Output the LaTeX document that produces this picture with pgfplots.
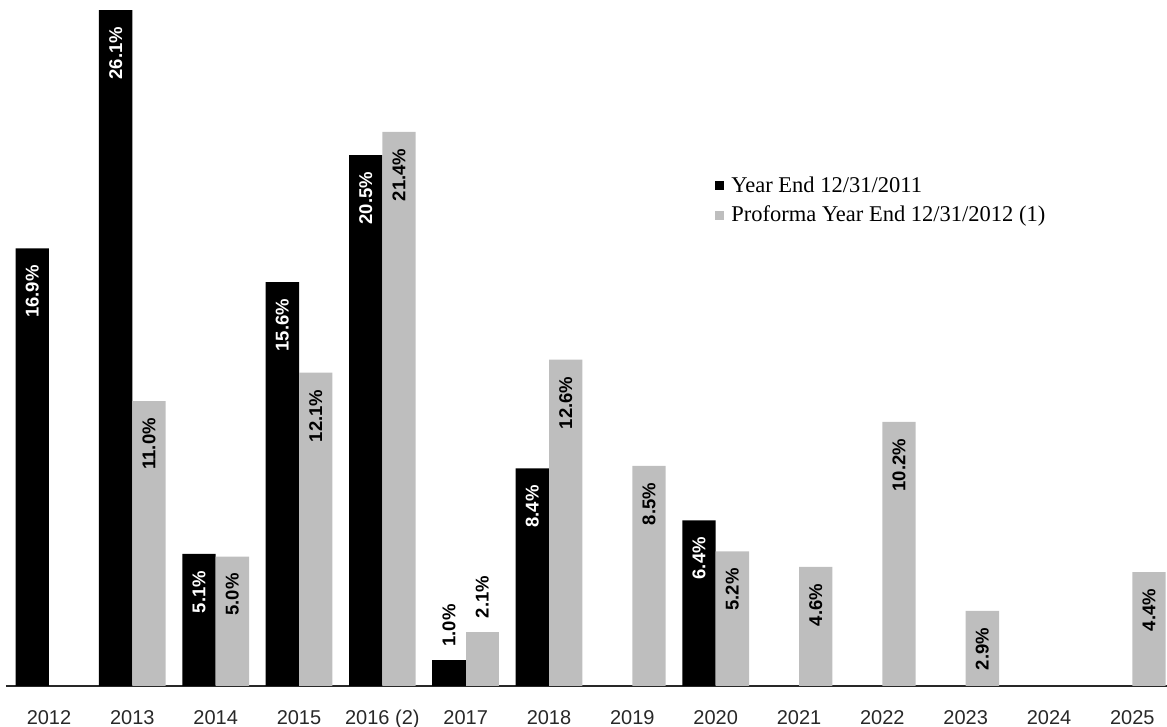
\documentclass[border=0pt]{standalone}
\usepackage{fontspec}
\setmainfont{Liberation Serif}
\newfontfamily\arial{Liberation Sans}
\usepackage{pgfplots}
\pgfplotsset{compat=1.18}
\definecolor{bargray}{RGB}{190,190,190}
\definecolor{axisgray}{RGB}{40,40,40}

\newcommand{\barlabel}{\pgfmathprintnumber[fixed,fixed zerofill,precision=1,assume math mode=true]{\pgfplotspointmeta}\%}

\begin{document}
\begin{tikzpicture}
\begin{axis}[
    scale only axis,
    width=580.5pt, height=343pt,
    xmin=-0.516, xmax=13.416,
    ymin=0, ymax=26.49,
    axis x line*=bottom,
    axis y line=none,
    x axis line style={-, line width=0.75pt, color=axisgray},
    ybar, bar width=0.4,
    xtick={0,...,13},
    xticklabels={2012,2013,2014,2015,2016 (2),2017,2018,2019,2020,2021,2022,2023,2024,2025},
    major tick length=0pt,
    xticklabel style={font=\arial\fontsize{10}{12}\selectfont, text=axisgray, yshift=-8.7pt},
    ytick=\empty,
    clip=false,
    legend style={draw=none, fill=none, at={(0.6055,0.755)}, anchor=north west,
        font=\fontsize{11.25}{14.5}\selectfont, row sep=1.5pt,
        nodes={inner xsep=3.5pt}},
    legend cell align=left,
    % labels inside the bars
    inlabel/.style={
        nodes near coords=\barlabel,
        every node near coord/.append style={rotate=90, anchor=east,
            font=\arial\bfseries\fontsize{9.25}{11}\selectfont,
            inner sep=0pt, inner xsep=8.3pt, text=#1}},
    % labels above the short bars
    outlabel/.style={
        nodes near coords=\barlabel,
        every node near coord/.append style={rotate=90, anchor=west,
            font=\arial\bfseries\fontsize{9.25}{11}\selectfont,
            inner sep=0pt, inner xsep=6.5pt, text=black}},
]

% Year End 12/31/2011
\addplot[fill=black, draw=none, bar shift=-0.2, inlabel=white,
    legend image code/.code={\fill[black] (0pt,-2.25pt) rectangle (4.5pt,2.25pt);}]
    coordinates {(0,16.9) (1,26.1) (2,5.1) (3,15.6) (4,20.5) (6,8.4) (8,6.4)};
\addlegendentry{Year End 12/31/2011}

% Proforma Year End 12/31/2012 (1)
\addplot[fill=bargray, draw=none, bar shift=0.2, inlabel=black,
    legend image code/.code={\fill[bargray] (0pt,-2.25pt) rectangle (4.5pt,2.25pt);}]
    coordinates {(1,11.0) (2,5.0) (3,12.1) (4,21.4) (6,12.6) (7,8.5) (8,5.2)
                 (9,4.6) (10,10.2) (11,2.9) (13,4.4)};
\addlegendentry{Proforma Year End 12/31/2012 (1)}

% 2017, labels above
\addplot[fill=black, draw=none, bar shift=-0.2, outlabel, forget plot]
    coordinates {(5,1.0)};
\addplot[fill=bargray, draw=none, bar shift=0.2, outlabel, forget plot]
    coordinates {(5,2.1)};

\end{axis}
\pgfresetboundingbox
\path ([xshift=-3pt,yshift=-20.5pt]current axis.south west) rectangle (current axis.north east);
\end{tikzpicture}
\end{document}
